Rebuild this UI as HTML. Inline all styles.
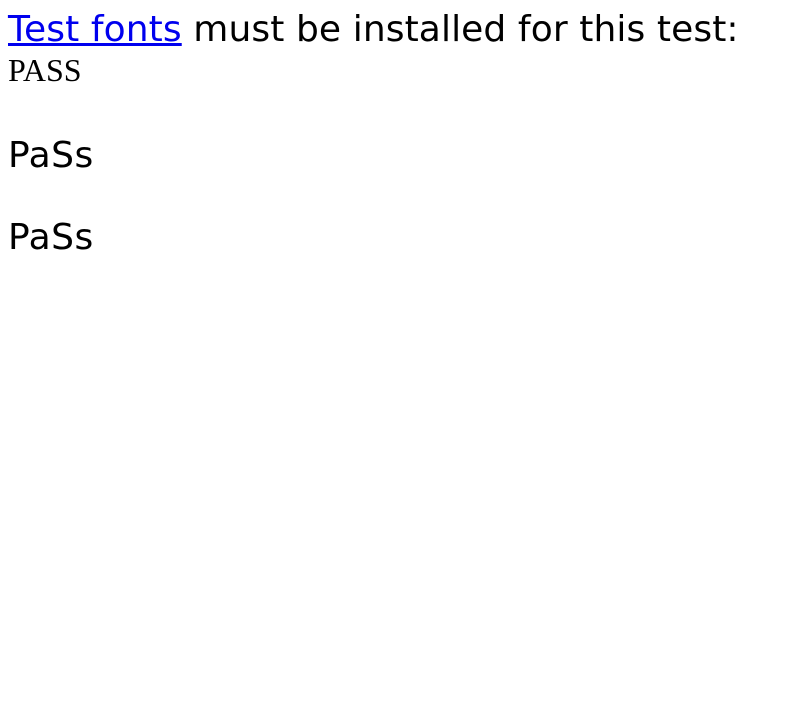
<!DOCTYPE html>
<html><head><meta charset="utf-8"><style>
html,body{margin:0;padding:0;background:#fff;width:800px;height:725px;overflow:hidden}
div{position:absolute;left:8px;white-space:nowrap;line-height:normal}
.s{font-family:"DejaVu Sans",sans-serif;font-size:36px;color:#000;letter-spacing:0.1px}
a{color:#00e;text-decoration:underline}
</style></head><body>
<div class="s" style="top:9px"><a>Test fonts</a> must be installed for this test:</div>
<div style="top:52px;font-family:'Liberation Serif',serif;font-size:32px">PASS</div>
<div class="s" style="top:135px;letter-spacing:0.5px">PaSs</div>
<div class="s" style="top:217px;letter-spacing:0.5px">PaSs</div>
</body></html>
